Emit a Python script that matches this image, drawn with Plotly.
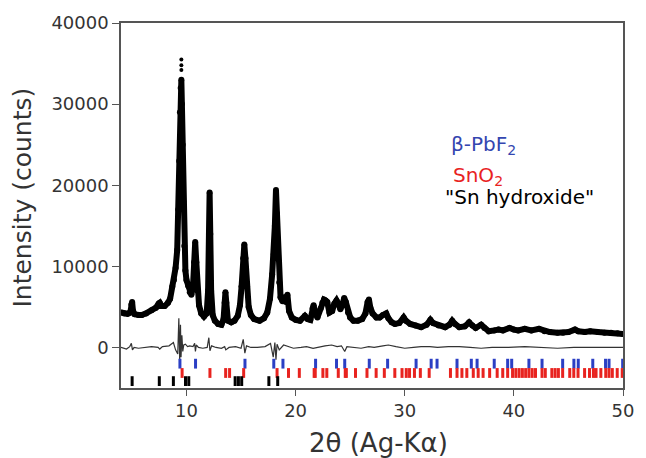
import plotly.graph_objects as go

# Observed powder pattern (2-theta in degrees, intensity in counts)
two_theta_obs = [
    4.0, 4.3, 4.6, 4.85, 4.95, 5.02, 5.1, 5.25, 5.6, 5.9, 6.3, 6.8, 7.2, 7.45, 7.55,
    7.7, 8.0, 8.3, 8.5, 8.7, 8.85, 9.0, 9.15, 9.25, 9.33, 9.4, 9.47, 9.53, 9.58, 9.65,
    9.72, 9.8, 9.9, 10.0, 10.15, 10.3, 10.45, 10.6, 10.7, 10.8, 10.9, 11.0, 11.15,
    11.35, 11.6, 11.85, 11.98, 12.06, 12.12, 12.18, 12.26, 12.4, 12.6, 12.9, 13.2,
    13.4, 13.5, 13.57, 13.65, 13.8, 14.1, 14.4, 14.7, 14.9, 15.05, 15.2, 15.3, 15.4,
    15.55, 15.7, 15.9, 16.2, 16.7, 17.1, 17.4, 17.65, 17.85, 18.0, 18.1, 18.2, 18.28,
    18.38, 18.5, 18.62, 18.8, 18.95, 19.1, 19.25, 19.4, 19.65, 20.0, 20.4, 20.85,
    21.1, 21.35, 21.55, 21.65, 21.8, 22.0, 22.3, 22.45, 22.6, 22.75, 22.9, 23.1,
    23.35, 23.55, 23.75, 23.95, 24.1, 24.3, 24.45, 24.6, 24.8, 25.0, 25.3, 25.7,
    26.1, 26.4, 26.6, 26.72, 26.85, 27.05, 27.4, 27.7, 28.0, 28.3, 28.5, 28.8, 29.1,
    29.5, 29.9, 30.1, 30.5, 31.0, 31.5, 32.0, 32.35, 32.6, 33.1, 33.7, 34.1, 34.35,
    34.6, 35.0, 35.5, 35.9, 36.2, 36.5, 37.0, 37.3, 37.7, 38.2, 38.6, 39.0, 39.6,
    40.0, 40.4, 41.0, 41.6, 42.3, 42.8, 43.3, 44.0, 44.5, 45.0, 45.6, 45.9, 46.5,
    47.0, 47.7, 48.3, 48.9, 49.5, 50.0,
]
counts_obs = [
    4300, 4200, 4150, 4300, 5300, 5600, 4500, 4100, 4000, 4000, 4200, 4600, 4900, 5400, 5500,
    5100, 5100, 5500, 6000, 7500, 8300, 9800, 12000, 17000, 23000, 29000, 32000, 33000, 30000, 25000,
    18000, 12500, 9500, 8300, 7600, 6800, 6500, 7600, 10500, 13000, 10500, 7000, 5200,
    4200, 3800, 4200, 7000, 14000, 19100, 14000, 7000, 4000, 3300, 2900, 2800,
    3500, 5500, 6800, 5500, 3300, 3100, 3300, 3900, 5200, 7500, 11000, 12700, 11000,
    7500, 5000, 4000, 3500, 3300, 3600, 4300, 6000, 9000, 11500, 15000, 19400, 16500,
    11500, 8000, 6200, 5700, 6200, 5600, 6500, 4500, 3700, 3400, 3300, 3900,
    3500, 3400, 4800, 5200, 4200, 3700, 4800, 5500, 5900, 5800, 5600, 4300,
    4500, 5400, 5800, 5300, 4700, 5300, 6100, 5600, 4300, 3700, 3300, 3300,
    3500, 4200, 5600, 5900, 4900, 4200, 3700, 3700, 4000, 4200, 3600, 3100, 2900,
    3000, 3700, 3300, 2900, 2700, 2500, 2800, 3400, 3000, 2700, 2500, 2800, 3300,
    2900, 2500, 2600, 3100, 2700, 2400, 2800, 2400, 2000, 2100, 2200, 2100, 2400,
    2200, 2100, 2300, 2100, 2300, 2000, 1900, 1800, 1800, 1900, 2200, 2000, 1900,
    2000, 1900, 1800, 1800, 1750, 1650,
]

# Scattered top points of the strongest reflection
two_theta_top = [9.53, 9.53, 9.53]
counts_top = [34200, 34800, 35500]

# Difference curve (observed - calculated)
two_theta_diff = [
    4.0, 4.5, 4.8, 4.95, 5.05, 5.2, 5.6, 6.2, 6.8, 7.4, 7.55, 7.8, 8.4, 8.8, 9.0,
    9.2, 9.3, 9.38, 9.45, 9.5, 9.58, 9.66, 9.75, 9.9, 10.1, 10.3, 10.6, 10.75, 10.82,
    10.9, 11.1, 11.5, 11.9, 12.05, 12.15, 12.3, 12.7, 13.2, 13.5, 13.6, 13.9, 14.5,
    15.0, 15.2, 15.35, 15.5, 15.9, 16.5, 17.2, 17.7, 17.95, 18.1, 18.2, 18.3, 18.5,
    18.9, 19.3, 19.8, 20.5, 21.0, 21.6, 22.2, 22.7, 23.3, 23.8, 24.2, 24.5, 24.7,
    25.2, 26.0, 26.7, 27.2, 28.0, 28.5, 29.2, 30.0, 30.8, 31.5, 32.3, 33.0, 34.0,
    35.0, 36.0, 37.0, 38.0, 39.5, 41.0, 42.5, 44.0, 45.5, 47.0, 48.5, 50.0,
]
diff_counts = [
    0, -200, 100, 500, -300, 0, -100, 0, 100, 0, -200, 100, 200, 600, -300,
    -800, 3600, -1700, 2800, -1200, 1500, -500, 300, 400, 100, 200, 100, 500, -500,
    300, 0, -100, 0, 1200, -400, 200, 0, -100, 100, -300, 0, 100,
    -100, 1000, -700, 200, 0, 0, 100, 500, -1200, 600, -1500, 400, -300,
    300, 100, -100, 0, 100, -100, 100, 200, 300, 100, 200, -500, 100,
    0, -100, 100, 0, 200, 300, 100, -100, 0, 100, 100, 0, 100,
    100, 0, -100, 0, 0, 100, 0, -100, 0, 0, 0, 0,
]

# Reflection positions of each phase
pos_pbf2 = [
    9.40, 10.83, 15.36, 18.00, 18.84, 21.83, 23.75, 24.50, 26.75, 28.43, 31.04,
    32.42, 32.96, 34.79, 36.10, 36.63, 38.20, 39.43, 39.80, 41.38, 42.58, 44.47,
    45.50, 45.90, 47.23, 48.40, 48.72, 49.97,
]
pos_sno2 = [
    9.60, 12.15, 13.59, 13.95, 15.24, 18.30, 19.35, 20.34, 21.70, 21.80, 22.50,
    22.86, 23.91, 24.55, 24.65, 25.49, 26.54, 27.38, 28.13, 29.09, 29.75, 30.14,
    30.44, 30.89, 31.43, 32.24, 34.19, 34.79, 35.24, 35.69, 36.28, 36.73, 37.18,
    37.78, 38.47, 38.98, 39.43, 39.88, 40.18, 40.48, 40.78, 41.08, 41.38, 41.68,
    41.98, 42.58, 42.88, 43.48, 43.78, 44.08, 44.47, 45.12, 45.49, 45.88, 46.48,
    46.93, 47.29, 47.53, 47.97, 48.42, 48.72, 49.02, 49.47, 49.93,
]
pos_hydroxide = [5.02, 7.51, 8.80, 9.91, 10.21, 14.46, 14.76, 15.06, 17.55, 18.36]

# Vertical offsets of the reflection-marker rows
row_pbf2 = -2000
row_sno2 = -3150
row_hydroxide = -4150

x_ticks = [10, 20, 30, 40, 50]
y_ticks = [0, 10000, 20000, 30000, 40000]
y_tick_labels = [str(v) for v in y_ticks]
x_tick_labels = [str(v) for v in x_ticks]

BLUE = "#2b3fc4"
RED = "#e8231f"
FONT = "DejaVu Sans"

fig = go.Figure()

fig.add_trace(go.Scatter(
    x=two_theta_obs, y=counts_obs, mode="lines+markers",
    line=dict(color="black", width=6),
    marker=dict(color="black", size=6),
    hoverinfo="skip",
))
fig.add_trace(go.Scatter(
    x=two_theta_top, y=counts_top, mode="markers",
    marker=dict(color="black", size=4),
    hoverinfo="skip",
))
fig.add_trace(go.Scatter(
    x=two_theta_diff, y=diff_counts, mode="lines",
    line=dict(color="#333333", width=1.2),
    hoverinfo="skip",
))

for pos, row, col, w in [
    (pos_pbf2, row_pbf2, BLUE, 3),
    (pos_sno2, row_sno2, RED, 3),
    (pos_hydroxide, row_hydroxide, "black", 3),
]:
    fig.add_trace(go.Scatter(
        x=pos, y=[row] * len(pos), mode="markers",
        marker=dict(symbol="line-ns", size=7, line=dict(color=col, width=w)),
        hoverinfo="skip",
    ))

axis_common = dict(
    showline=True, linecolor="#555555", linewidth=1.5, mirror=True,
    showgrid=False, zeroline=False, ticks="outside", tickcolor="#555555",
    tickwidth=1.2, tickfont=dict(family=FONT, size=18, color="#333333"),
)

fig.update_layout(
    width=646, height=458,
    margin=dict(l=121, r=13, t=18, b=70),
    paper_bgcolor="white", plot_bgcolor="white",
    showlegend=False,
    xaxis=dict(range=[4, 50], tickvals=x_ticks, ticktext=x_tick_labels,
               ticklen=6, **axis_common),
    yaxis=dict(range=[-5000, 40000], tickvals=y_ticks, ticktext=y_tick_labels,
               ticklen=7, ticklabelstandoff=0, **axis_common),
    annotations=[
        dict(text="Intensity (counts)", textangle=-90, xref="paper", yref="paper",
             x=-0.197, y=0.522, xanchor="center", yanchor="middle", showarrow=False,
             font=dict(family=FONT, size=25, color="#333333")),
        dict(text="2θ (Ag-Kα)", xref="paper", yref="paper",
             x=0.513, y=-0.152, xanchor="center", yanchor="middle", showarrow=False,
             font=dict(family=FONT, size=26, color="#333333")),
        dict(text="β-PbF<sub>2</sub>", xref="x", yref="y", x=34.1, y=24900,
             xanchor="left", yanchor="middle", showarrow=False,
             font=dict(family=FONT, size=20, color="#3446b0")),
        dict(text="SnO<sub>2</sub>", xref="x", yref="y", x=34.2, y=21100,
             xanchor="left", yanchor="middle", showarrow=False,
             font=dict(family=FONT, size=20, color=RED)),
        dict(text="\"Sn hydroxide\"", xref="x", yref="y", x=33.55, y=18500,
             xanchor="left", yanchor="middle", showarrow=False,
             font=dict(family=FONT, size=20, color="black")),
    ],
)

fig.write_html("out.html")
